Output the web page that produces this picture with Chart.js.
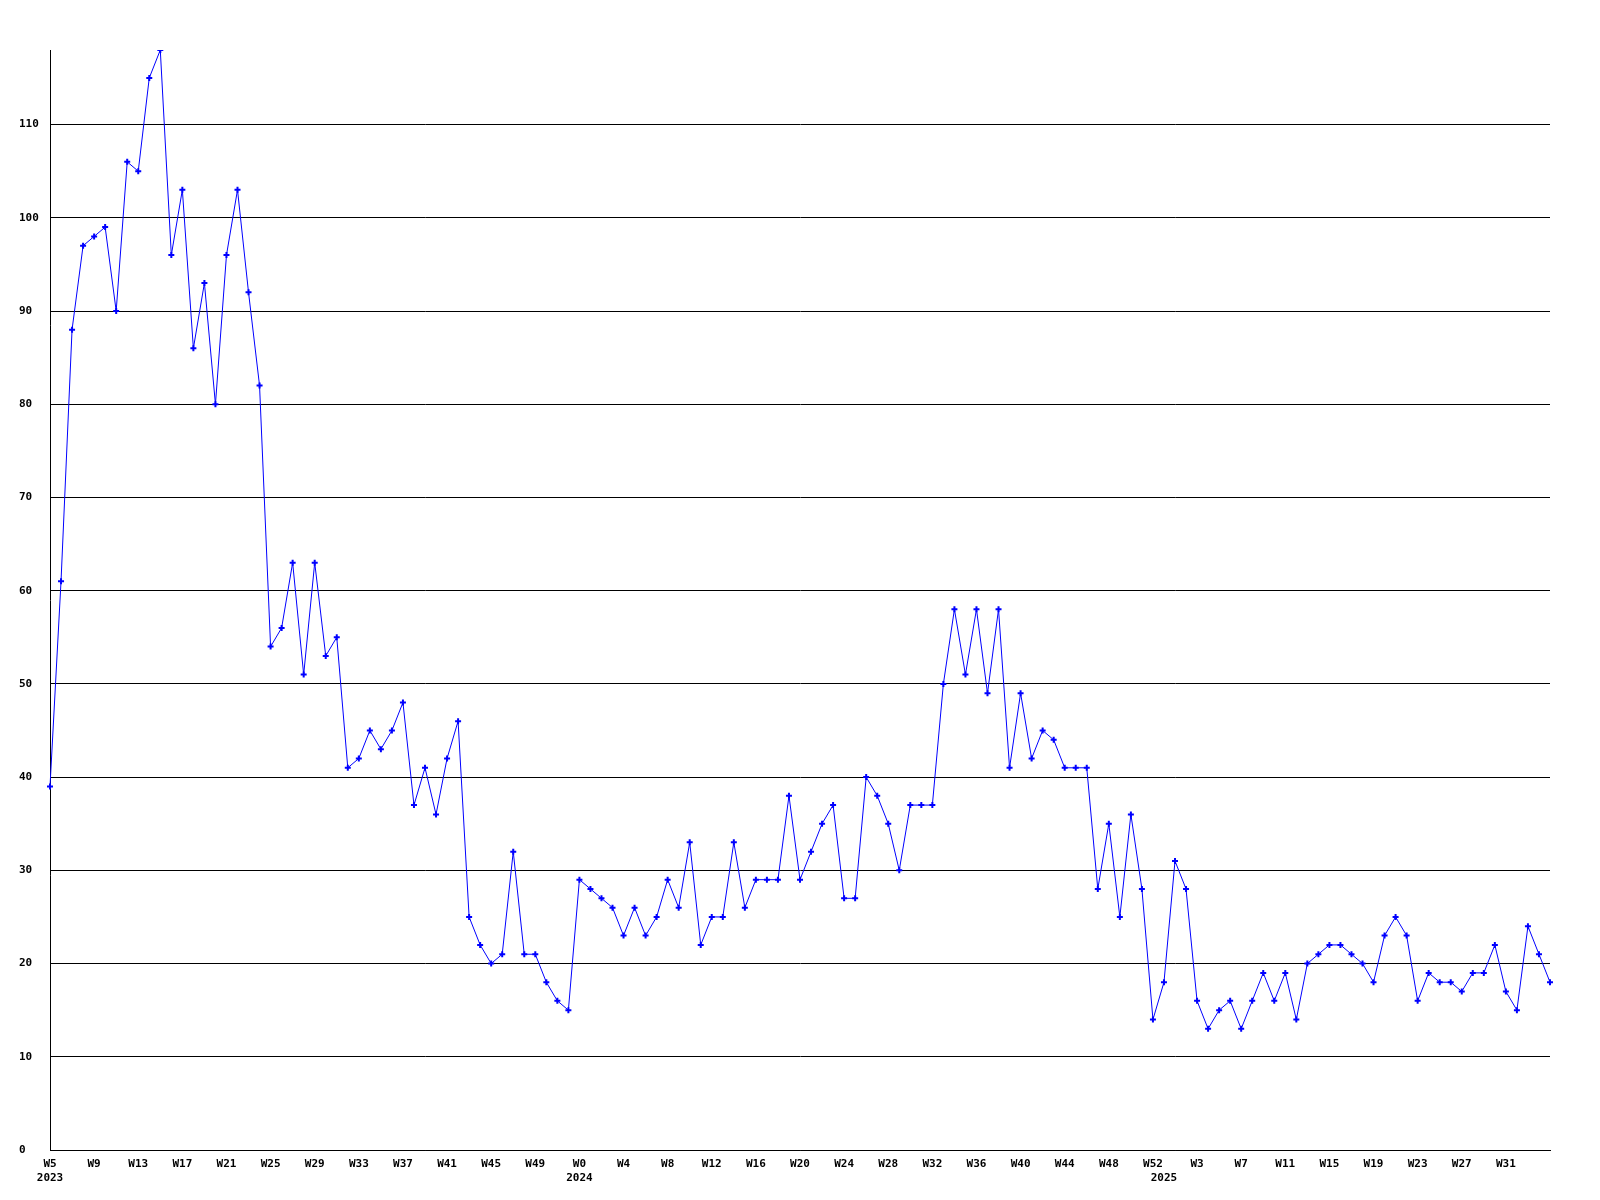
<!DOCTYPE html>
<html>
<head>
<meta charset="utf-8">
<script src="https://cdn.jsdelivr.net/npm/chart.js@4.4.1/dist/chart.umd.min.js"></script>
<style>
  html, body { margin: 0; padding: 0; background: #ffffff; }
  #weekly { display: block; }
</style>
</head>
<body>
<canvas id="weekly" width="1600" height="1200"></canvas>
<script>
// weekly counts, one value per week (week numbers as in %U, 0..52)
const years = [2023, 2024, 2025];
const firstWeek = [5, 0, 0];
const counts2023 = [39, 61, 88, 97, 98, 99, 90, 106, 105, 115,
                    118, 96, 103, 86, 93, 80, 96, 103, 92, 82,
                    54, 56, 63, 51, 63, 53, 55, 41, 42, 45,
                    43, 45, 48, 37, 41, 36, 42, 46, 25, 22,
                    20, 21, 32, 21, 21, 18, 16, 15];
const counts2024 = [29, 28, 27, 26, 23, 26, 23, 25, 29, 26,
                    33, 22, 25, 25, 33, 26, 29, 29, 29, 38,
                    29, 32, 35, 37, 27, 27, 40, 38, 35, 30,
                    37, 37, 37, 50, 58, 51, 58, 49, 58, 41,
                    49, 42, 45, 44, 41, 41, 41, 28, 35, 25,
                    36, 28, 14];
const counts2025 = [18, 31, 28, 16, 13, 15, 16, 13, 16, 19,
                    16, 19, 14, 20, 21, 22, 22, 21, 20, 18,
                    23, 25, 23, 16, 19, 18, 18, 17, 19, 19,
                    22, 17, 15, 24, 21, 18];
const yTicks = [0, 10, 20, 30, 40, 50, 60, 70, 80, 90, 100, 110];
const labelEvery = 4;

const perYear = [counts2023, counts2024, counts2025];
const weekLabels = [];
const yearStart = {};
const counts = [];
perYear.forEach((list, y) => {
    yearStart[weekLabels.length] = String(years[y]);
    list.forEach((v, i) => {
        weekLabels.push('W' + (firstWeek[y] + i));
        counts.push(v);
    });
});

const tickFont = { family: 'DejaVu Sans Mono', size: 11, weight: 'bold', lineHeight: 1.3 };

new Chart(document.getElementById('weekly').getContext('2d'), {
    type: 'line',
    data: {
        labels: weekLabels,
        datasets: [{
            data: counts,
            borderColor: '#0000ff',
            borderWidth: 1,
            tension: 0,
            fill: false,
            pointStyle: 'cross',
            pointRadius: 3,
            pointBorderWidth: 2,
            pointBorderColor: '#0000ff',
            pointBackgroundColor: '#0000ff'
        }]
    },
    options: {
        responsive: false,
        animation: false,
        layout: { padding: { top: 50, right: 50, left: 19, bottom: 0 } },
        plugins: {
            legend: { display: false },
            tooltip: { enabled: false }
        },
        scales: {
            x: {
                type: 'category',
                offset: false,
                grid: { display: false, drawTicks: false },
                border: { display: true, color: '#000000', width: 1 },
                afterFit: scale => { scale.height = 50; },
                ticks: {
                    autoSkip: false,
                    maxRotation: 0,
                    padding: 7,
                    color: '#000000',
                    font: tickFont,
                    callback: function(value, index) {
                        // no week label on the last point (it would run off the edge)
                        const show = index % labelEvery === 0 && index < weekLabels.length - 1;
                        const wk = show ? weekLabels[index] : '';
                        if (yearStart[index] !== undefined) {
                            return [wk, yearStart[index]];
                        }
                        return wk;
                    }
                }
            },
            y: {
                min: 0,
                max: Math.max(...counts),
                afterFit: scale => { scale.width = 31; },
                afterBuildTicks: scale => { scale.ticks = yTicks.map(v => ({ value: v })); },
                grid: { color: '#000000', lineWidth: 1, drawTicks: false },
                border: { display: true, color: '#000000', width: 1 },
                ticks: {
                    includeBounds: false,
                    crossAlign: 'far',
                    padding: 0,
                    color: '#000000',
                    font: tickFont
                }
            }
        }
    }
});
</script>
</body>
</html>
